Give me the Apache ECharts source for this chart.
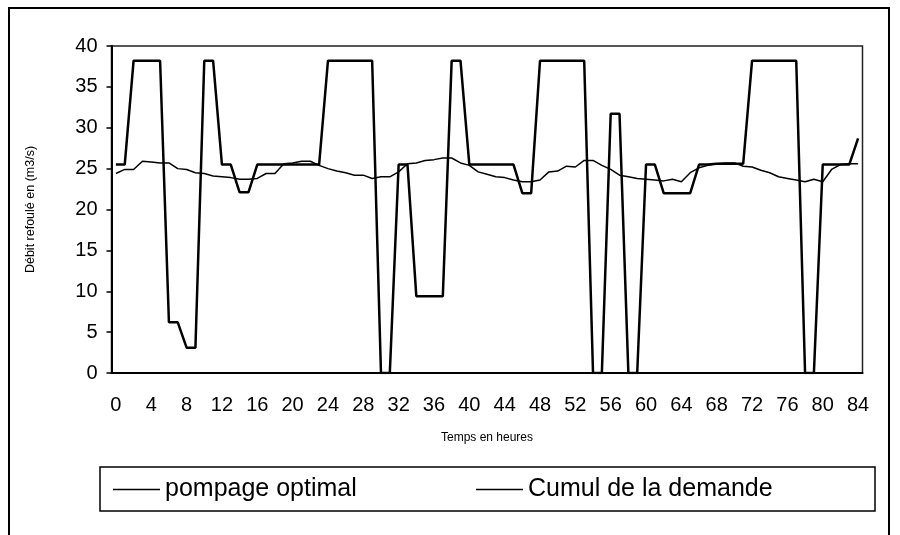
<!DOCTYPE html>
<html>
<head>
<meta charset="utf-8">
<script src="https://cdn.jsdelivr.net/npm/echarts@6/dist/echarts.min.js"></script>
<style>
html,body{margin:0;padding:0;background:#fff;}
#chart{width:900px;height:535px;}
</style>
</head>
<body>
<div id="chart"></div>
<script>
// Hours 0..84
var hours = [];
for (var h = 0; h <= 84; h++) hours.push(String(h));

var pompageOptimal = [
  25.5, 25.5, 38.2, 38.2, 38.2, 38.2, 6.2, 6.2, 3.1, 3.1,
  38.2, 38.2, 25.5, 25.5, 22.1, 22.1, 25.5, 25.5, 25.5, 25.5,
  25.5, 25.5, 25.5, 25.5, 38.2, 38.2, 38.2, 38.2, 38.2, 38.2,
  0, 0, 25.5, 25.5, 9.4, 9.4, 9.4, 9.4, 38.2, 38.2,
  25.5, 25.5, 25.5, 25.5, 25.5, 25.5, 22.0, 22.0, 38.2, 38.2,
  38.2, 38.2, 38.2, 38.2, 0, 0, 31.7, 31.7, 0, 0,
  25.5, 25.5, 22.0, 22.0, 22.0, 22.0, 25.5, 25.5, 25.6, 25.6,
  25.6, 25.6, 38.2, 38.2, 38.2, 38.2, 38.2, 38.2, 0, 0,
  25.5, 25.5, 25.5, 25.5, 28.7
];

var cumulDemande = [
  24.4, 24.9, 24.9, 25.9, 25.8, 25.7, 25.7, 25.0, 24.9, 24.5,
  24.4, 24.1, 24.0, 23.9, 23.7, 23.7, 23.8, 24.4, 24.4, 25.6,
  25.7, 25.9, 25.9, 25.4, 25.0, 24.7, 24.5, 24.2, 24.2, 23.8,
  24.0, 24.0, 24.6, 25.6, 25.7, 26.0, 26.1, 26.3, 26.3, 25.7,
  25.4, 24.6, 24.3, 24.0, 23.9, 23.6, 23.4, 23.4, 23.6, 24.6,
  24.7, 25.3, 25.2, 26.0, 26.0, 25.4, 24.9, 24.2, 24.0, 23.8,
  23.7, 23.6, 23.5, 23.7, 23.4, 24.5, 25.1, 25.4, 25.6, 25.7,
  25.7, 25.3, 25.2, 24.8, 24.5, 24.0, 23.8, 23.6, 23.4, 23.7,
  23.4, 24.9, 25.5, 25.6, 25.6
];

var seriesNames = ['pompage optimal', 'Cumul de la demande'];
var yAxisTitle = 'Débit refoulé en (m3/s)';
var xAxisTitle = 'Temps en heures';

var FONT = "'Liberation Sans', Arial, sans-serif";
var chart = echarts.init(document.getElementById('chart'), null, {renderer: 'canvas'});

function legendCfg(name, left) {
  return {
    data: [{name: name, icon: 'rect'}],
    left: left, top: 477, padding: 0,
    itemWidth: 47, itemHeight: 1.5,
    itemStyle: {color: '#000', borderWidth: 0},
    textStyle: {fontSize: 25, color: '#000', fontFamily: FONT}
  };
}

chart.setOption({
  backgroundColor: '#fff',
  animation: false,
  graphic: [
    {type: 'rect', shape: {x: 9, y: 8, width: 880, height: 540}, style: {fill: 'none', stroke: '#000', lineWidth: 2}, z: 0},
    {type: 'rect', shape: {x: 100, y: 467, width: 775, height: 44}, style: {fill: 'none', stroke: '#000', lineWidth: 1.5}, z: 0}
  ],
  legend: [legendCfg(seriesNames[0], 113), legendCfg(seriesNames[1], 476)],
  grid: {left: 111.5, right: 37.5, top: 46, bottom: 162, show: true, borderColor: '#222', borderWidth: 1.5, backgroundColor: '#fff'},
  xAxis: {
    type: 'category',
    data: hours,
    boundaryGap: true,
    name: xAxisTitle,
    nameLocation: 'middle',
    nameGap: 59,
    nameTextStyle: {fontSize: 12, color: '#000', fontFamily: FONT},
    axisLine: {lineStyle: {color: '#000', width: 2}},
    axisTick: {interval: 0, length: 5, lineStyle: {color: '#000', width: 1.5}},
    axisLabel: {interval: 3, fontSize: 20, color: '#000', margin: 22, fontFamily: FONT},
    splitLine: {show: false}
  },
  yAxis: {
    type: 'value',
    min: 0, max: 40, interval: 5,
    name: yAxisTitle,
    nameLocation: 'middle',
    nameGap: 74,
    nameRotate: 90,
    nameTextStyle: {fontSize: 12.5, color: '#000', fontFamily: FONT},
    axisLine: {show: true, lineStyle: {color: '#000', width: 2}},
    axisTick: {show: true, length: 5, lineStyle: {color: '#000', width: 1.5}},
    axisLabel: {fontSize: 20, color: '#000', margin: 14, fontFamily: FONT},
    splitLine: {show: false}
  },
  series: [
    {name: seriesNames[0], type: 'line', data: pompageOptimal, symbol: 'none',
     lineStyle: {color: '#000', width: 2.5}, itemStyle: {color: '#000'}, z: 3},
    {name: seriesNames[1], type: 'line', data: cumulDemande, symbol: 'none',
     lineStyle: {color: '#000', width: 1.5}, itemStyle: {color: '#000'}, z: 4}
  ]
});
</script>
</body>
</html>
